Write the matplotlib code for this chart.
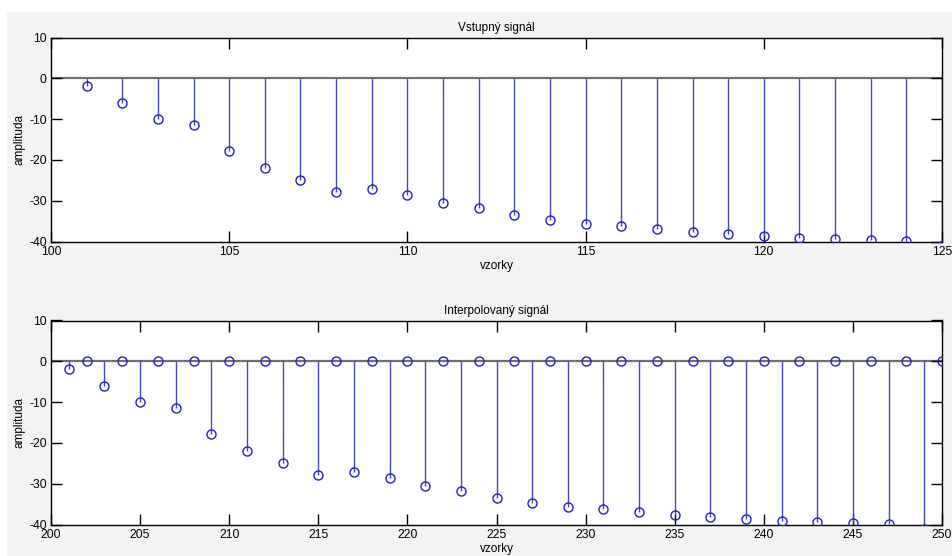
import matplotlib

matplotlib.use("Agg")
import matplotlib.pyplot as plt
import numpy as np
from matplotlib.patches import Rectangle

plt.rcParams["font.family"] = ["Liberation Sans", "DejaVu Sans"]
plt.rcParams["axes.unicode_minus"] = False

# input signal, samples 101..125
in_x = np.arange(101, 126)
in_y = [-1.8, -6.0, -10.0, -11.5, -17.9, -21.9, -25.0, -27.8, -27.2, -28.6,
        -30.5, -31.8, -33.6, -34.7, -35.6, -36.3, -36.9, -37.6, -38.1, -38.7,
        -39.1, -39.5, -39.7, -39.9, -41.0]

# interpolated signal, samples 201..250 (zero inserted between input samples)
out_x = np.arange(201, 251)
out_y = np.zeros(len(out_x))
out_y[0::2] = in_y

STEM = "#4646c4"
MARK = "#2222b4"


def stem_panel(ax, x, y, xlim, xticks, title):
    ax.vlines(x, 0, y, color=STEM, lw=1.0, zorder=2)
    ax.plot(x, y, "o", mfc="none", mec=MARK, ms=6.5, mew=1.0, zorder=3)
    ax.axhline(0, color="#707070", lw=1.6, zorder=1)
    ax.set_xlim(*xlim)
    ax.set_ylim(-40, 10)
    ax.set_xticks(xticks)
    ax.set_yticks([-40, -30, -20, -10, 0, 10])
    ax.tick_params(direction="in", length=8, width=1, top=True, right=True,
                   labelsize=8.8, colors="black")
    ax.tick_params(axis="x", pad=3)
    ax.tick_params(axis="y", pad=3)
    for s in ax.spines.values():
        s.set_linewidth(1.0)
    ax.set_title(title, fontsize=8.5, pad=5)
    ax.set_xlabel("vzorky", fontsize=8.5, labelpad=2)
    ax.set_ylabel("amplituda", fontsize=8.5, labelpad=3)


fig = plt.figure(figsize=(9.52, 5.56), dpi=100, facecolor="#f3f3f3")
# white strip along top and left edges of the screenshot
fig.patches.append(Rectangle((0, 1 - 12 / 556), 1, 12 / 556, transform=fig.transFigure,
                             facecolor="white", edgecolor="none", zorder=0))
fig.patches.append(Rectangle((0, 0), 7 / 952, 1, transform=fig.transFigure,
                             facecolor="white", edgecolor="none", zorder=0))

W, H = 952, 556
ax1 = fig.add_axes([51 / W, 1 - 241.5 / H, 891 / W, 204 / H])
ax2 = fig.add_axes([51 / W, 1 - 524.5 / H, 891 / W, 204 / H])

stem_panel(ax1, in_x, in_y, (100, 125), range(100, 126, 5), "Vstupný signál")
stem_panel(ax2, out_x, out_y, (200, 250), range(200, 251, 5), "Interpolovaný signál")

fig.savefig("out.png", dpi=100, facecolor=fig.get_facecolor())
plt.close(fig)
